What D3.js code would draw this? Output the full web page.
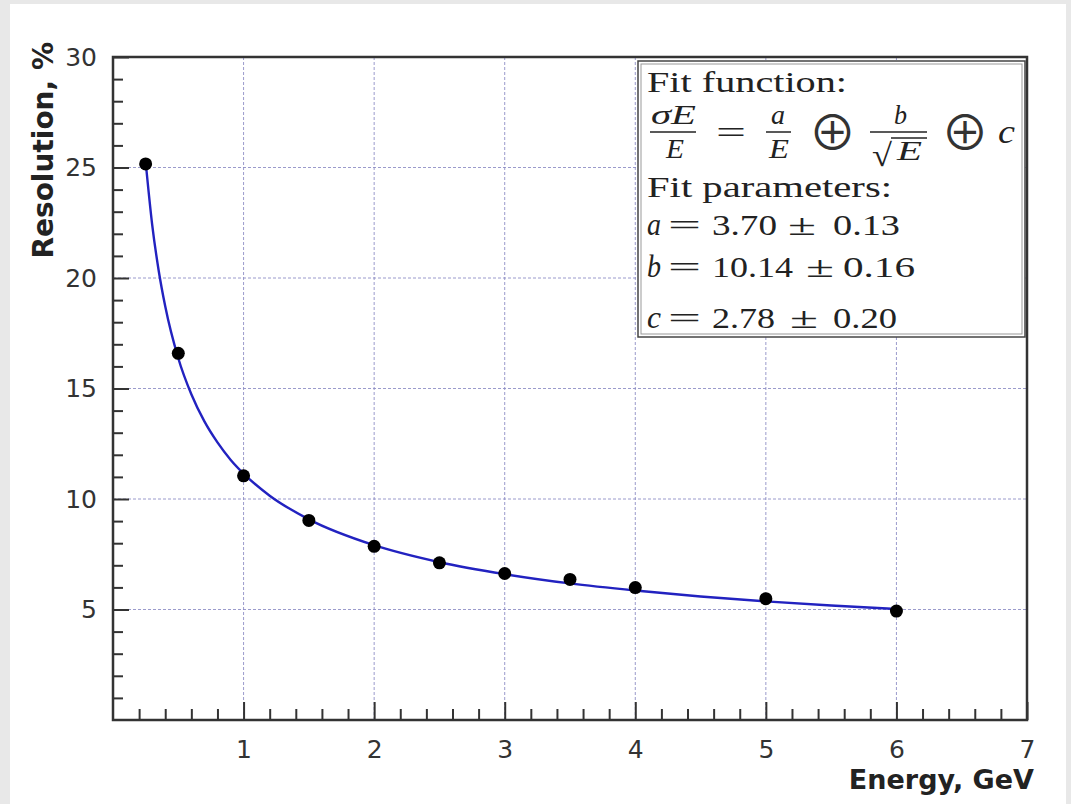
<!DOCTYPE html>
<html>
<head>
<meta charset="utf-8">
<script src="https://cdn.jsdelivr.net/npm/d3@7"></script>
<style>
  html, body { margin: 0; padding: 0; background: #e8e8e8; }
  svg { display: block; }
  .tick text { font-family: "DejaVu Sans", sans-serif; fill: #333; }
</style>
</head>
<body>
<svg id="chart" width="1071" height="804"></svg>
<script>
// measured points
var energy = [0.25, 0.5, 1, 1.5, 2, 2.5, 3, 3.5, 4, 5, 6];
var resolution = [25.16, 16.59, 11.05, 9.03, 7.86, 7.11, 6.63, 6.36, 5.99, 5.49, 4.93];

// fit curve
var fitE = [0.25, 0.3, 0.35, 0.4, 0.5, 0.6, 0.7, 0.8, 0.9, 1, 1.2, 1.5, 2, 2.5, 3, 3.5, 4, 4.5, 5, 5.5, 6];
var fitRes = [25.26, 22.42, 20.33, 18.72, 16.37, 14.74, 13.51, 12.56, 11.78, 11.15, 10.15, 9.08, 7.91, 7.14, 6.60, 6.18, 5.86, 5.59, 5.37, 5.18, 5.02];

var xMajor = [1, 2, 3, 4, 5, 6, 7];
var yMajor = [5, 10, 15, 20, 25, 30];

var xTitle = "Energy, GeV";
var yTitle = "Resolution, %";

(function () {
var svg = d3.select("#chart");

// white page
svg.append("rect").attr("x", 10).attr("y", 4).attr("width", 1056).attr("height", 800).attr("fill", "#fff");

var pl = 113, pr = 1027, pt = 57, pb = 720;

var x = d3.scaleLinear().domain([0, 7]).range([pl, pr]);
var y = d3.scaleLinear().domain([0, 30]).range([pb, pt]);

// grid
var grid = svg.append("g");
grid.selectAll(".gx").data(xMajor.filter(function (d) { return d < 7; })).enter().append("line")
    .attr("x1", function (d) { return x(d); }).attr("x2", function (d) { return x(d); })
    .attr("y1", pt).attr("y2", pb)
    .attr("stroke", "#8a8ac4").attr("stroke-width", 1).attr("stroke-dasharray", "3,2").attr("opacity", 0.85);
grid.selectAll(".gy").data(yMajor.filter(function (d) { return d < 30; })).enter().append("line")
    .attr("x1", pl).attr("x2", pr)
    .attr("y1", function (d) { return y(d); }).attr("y2", function (d) { return y(d); })
    .attr("stroke", "#8a8ac4").attr("stroke-width", 1).attr("stroke-dasharray", "3,2").attr("opacity", 0.85);

// axes - ticks pointing inside like ROOT
var xMinor = d3.range(1, 35).map(function (i) { return i / 5; }).filter(function (d) { return Math.abs(d - Math.round(d)) > 1e-6; });
var yMinor = d3.range(1, 30).filter(function (d) { return d % 5 !== 0; });

svg.append("g").attr("transform", "translate(0," + pb + ")")
    .call(d3.axisBottom(x).tickValues(xMinor).tickSize(-11).tickFormat(""))
    .call(function (g) { g.select(".domain").remove(); g.selectAll("line").attr("stroke", "#333").attr("stroke-width", 2); });
svg.append("g").attr("transform", "translate(0," + pb + ")")
    .call(d3.axisBottom(x).tickValues(xMajor).tickSize(-18).tickPadding(20).tickFormat(d3.format("d")))
    .call(function (g) {
        g.select(".domain").remove();
        g.selectAll("line").attr("stroke", "#333").attr("stroke-width", 2);
        g.selectAll("text").attr("font-size", 25);
    });

svg.append("g").attr("transform", "translate(" + pl + ",0)")
    .call(d3.axisLeft(y).tickValues(yMinor).tickSize(-10).tickFormat(""))
    .call(function (g) { g.select(".domain").remove(); g.selectAll("line").attr("stroke", "#333").attr("stroke-width", 2); });
svg.append("g").attr("transform", "translate(" + pl + ",0)")
    .call(d3.axisLeft(y).tickValues(yMajor).tickSize(-16).tickPadding(16).tickFormat(d3.format("d")))
    .call(function (g) {
        g.select(".domain").remove();
        g.selectAll("line").attr("stroke", "#333").attr("stroke-width", 2);
        g.selectAll("text").attr("font-size", 25);
    });

// frame
svg.append("rect").attr("x", pl).attr("y", pt).attr("width", pr - pl).attr("height", pb - pt)
    .attr("fill", "none").attr("stroke", "#333").attr("stroke-width", 2.5);

// titles
svg.append("text").attr("x", 1034).attr("y", 789).attr("text-anchor", "end")
    .attr("font-family", "DejaVu Sans").attr("font-weight", "bold").attr("font-size", 27).attr("fill", "#222")
    .text(xTitle);
svg.append("text").attr("transform", "translate(53,42) rotate(-90)").attr("text-anchor", "end")
    .attr("font-family", "DejaVu Sans").attr("font-weight", "bold").attr("font-size", 28).attr("fill", "#222")
    .text(yTitle);

// fit line
var line = d3.line().x(function (d, i) { return x(fitE[i]); }).y(function (d) { return y(d); }).curve(d3.curveMonotoneX);
svg.append("path").datum(fitRes).attr("d", line)
    .attr("fill", "none").attr("stroke", "#2222c0").attr("stroke-width", 2.4);

// points
svg.selectAll(".pt").data(energy).enter().append("circle")
    .attr("cx", function (d) { return x(d); })
    .attr("cy", function (d, i) { return y(resolution[i]); })
    .attr("r", 6.5).attr("fill", "#000");

// legend box
var lg = svg.append("g");
lg.append("rect").attr("x", 638).attr("y", 61).attr("width", 387).attr("height", 276)
    .attr("fill", "#fff").attr("stroke", "#444").attr("stroke-width", 1.5);
lg.append("rect").attr("x", 641).attr("y", 64).attr("width", 381).attr("height", 270)
    .attr("fill", "none").attr("stroke", "#999").attr("stroke-width", 1);

var serif = "Liberation Serif, serif";
function txt(s, x0, y0, w, size, italic, font) {
    var t = lg.append("text").attr("x", x0).attr("y", y0)
        .attr("font-family", font || serif).attr("font-size", size).attr("fill", "#222")
        .text(s);
    if (italic) t.attr("font-style", "italic");
    if (w) t.attr("textLength", w).attr("lengthAdjust", "spacingAndGlyphs");
    return t;
}
function bar(x1, x2, yy) {
    lg.append("line").attr("x1", x1).attr("x2", x2).attr("y1", yy).attr("y2", yy)
        .attr("stroke", "#222").attr("stroke-width", 1.5);
}

txt("Fit function:", 647, 92, 200, 30);

// formula line
txt("\u03C3E", 651, 124, 45, 27, true);
bar(650, 696, 132);
txt("E", 666, 158, 18, 27, true);
txt("=", 716, 143, 30, 32);
txt("a", 771, 124, 14, 27, true);
bar(766, 791, 132);
txt("E", 769, 158, 20, 27, true);
txt("\u2295", 832.5, 150, 0, 48, false, "Noto Sans CJK JP").attr("text-anchor", "middle").attr("fill", "#333");
txt("b", 894, 124, 13, 27, true);
bar(870, 927, 132);
txt("\u221A", 872, 166, 20, 32);
bar(891, 927, 138);
txt("E", 897, 160, 25, 27, true);
txt("\u2295", 965, 150, 0, 48, false, "Noto Sans CJK JP").attr("text-anchor", "middle").attr("fill", "#333");
txt("c", 998, 143, 17, 34, true);

txt("Fit parameters:", 647, 197, 245, 30);

var rows = [
    { v: "a", val: "3.70", err: "0.13", yb: 235, valW: 65, pm: 788, errX: 833, errW: 67 },
    { v: "b", val: "10.14", err: "0.16", yb: 277, valW: 81, pm: 806, errX: 843, errW: 72 },
    { v: "c", val: "2.78", err: "0.20", yb: 328, valW: 63, pm: 790, errX: 833, errW: 64 }
];
rows.forEach(function (r) {
    txt(r.v, 647, r.yb, 14, 32, true);
    txt("=", 668, r.yb, 33, 30);
    txt(r.val, 712, r.yb, r.valW, 30);
    txt("\u00B1", r.pm, r.yb, 28, 30);
    txt(r.err, r.errX, r.yb, r.errW, 30);
});
})();
</script>
</body>
</html>
